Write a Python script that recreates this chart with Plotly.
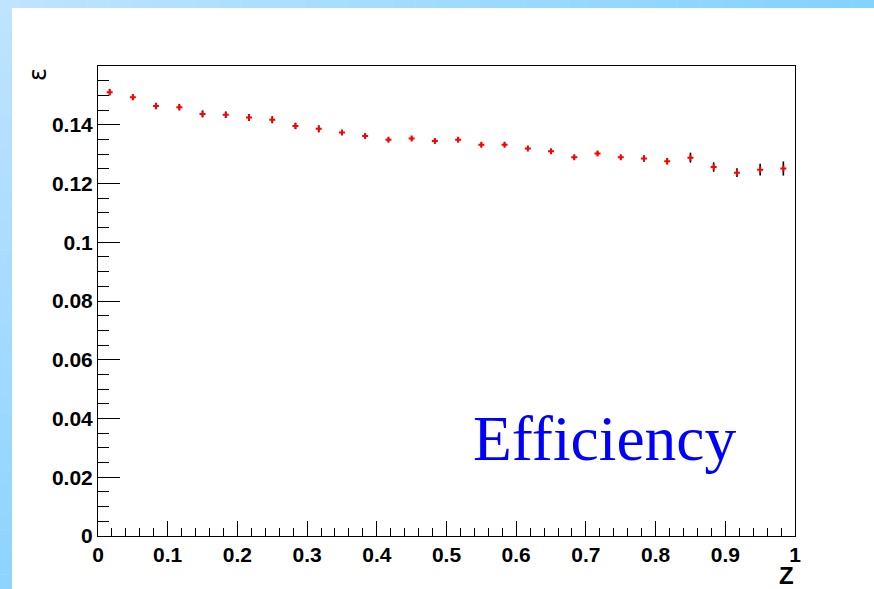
import numpy as np
import plotly.graph_objects as go

# Bin centres in Z (30 equal bins over [0, 1])
z_centers = [0.0167, 0.05, 0.0833, 0.1167, 0.15, 0.1833, 0.2167, 0.25, 0.2833, 0.3167,
             0.35, 0.3833, 0.4167, 0.45, 0.4833, 0.5167, 0.55, 0.5833, 0.6167, 0.65,
             0.6833, 0.7167, 0.75, 0.7833, 0.8167, 0.85, 0.8833, 0.9167, 0.95, 0.9833]

# Efficiency per bin
eff = [0.1511, 0.1494, 0.1464, 0.1460, 0.1437, 0.1434, 0.1425, 0.1417, 0.1396, 0.1386,
       0.1374, 0.1362, 0.1349, 0.1353, 0.1345, 0.1349, 0.1332, 0.1332, 0.1319, 0.1310,
       0.1289, 0.1302, 0.1289, 0.1285, 0.1276, 0.1288, 0.1256, 0.1237, 0.1247, 0.1251]

# Statistical uncertainty per bin
eff_err = [0.0011, 0.0010, 0.0011, 0.0011, 0.0012, 0.0011, 0.0012, 0.0012, 0.0011, 0.0012,
           0.0007, 0.0007, 0.0007, 0.0007, 0.0007, 0.0007, 0.0007, 0.0007, 0.0007, 0.0007,
           0.0007, 0.0007, 0.0007, 0.0011, 0.0011, 0.0017, 0.0016, 0.0015, 0.0020, 0.0024]

y_ticks = [0, 0.02, 0.04, 0.06, 0.08, 0.1, 0.12, 0.14]
x_ticks = [0, 0.1, 0.2, 0.3, 0.4, 0.5, 0.6, 0.7, 0.8, 0.9, 1.0]

W, H = 874, 589
L, R, T, B = 98, 79, 66, 53
PW, PH = W - L - R, H - T - B


def px_x(px):
    return (px - L) / PW


def px_y(py):
    return 1 - (py - T) / PH


fig = go.Figure()
fig.add_trace(go.Scatter(
    x=z_centers, y=eff,
    mode="markers",
    marker=dict(symbol="cross", size=5, color="#ff0000", line=dict(width=0)),
    error_y=dict(type="data", array=eff_err, visible=True, color="black",
                 thickness=1.6, width=0),
    showlegend=False,
))

# Slide-style backdrop: gradient bands along the top and left edges
shapes = []
n = 40
c0 = np.array([0xBF, 0xE4, 0xFF])
c1 = np.array([0x84, 0xD2, 0xFF])
for i in range(n):
    f = i / (n - 1)
    c = (c0 * (1 - f) + c1 * f).astype(int)
    col = "rgb(%d,%d,%d)" % tuple(c)
    x0 = W * i / n
    x1 = W * (i + 1) / n + 0.5
    shapes.append(dict(type="rect", xref="paper", yref="paper", layer="below",
                       x0=px_x(x0), x1=px_x(x1), y0=px_y(8), y1=px_y(0),
                       fillcolor=col, line=dict(width=0)))
c2 = np.array([0x8E, 0xD4, 0xFF])
for i in range(n):
    f = i / (n - 1)
    c = (c0 * (1 - f) + c2 * f).astype(int)
    col = "rgb(%d,%d,%d)" % tuple(c)
    y0 = H * i / n
    y1 = H * (i + 1) / n + 0.5
    shapes.append(dict(type="rect", xref="paper", yref="paper", layer="below",
                       x0=px_x(0), x1=px_x(12), y0=px_y(y1), y1=px_y(y0),
                       fillcolor=col, line=dict(width=0)))

annotations = [
    dict(text="ε", xref="paper", yref="paper", x=px_x(38), y=px_y(74),
         xanchor="center", yanchor="middle", showarrow=False, textangle=-90,
         font=dict(family="DejaVu Sans", size=24, color="black")),
    dict(text="<b>Z</b>", xref="paper", yref="paper", x=px_x(786), y=px_y(575),
         xanchor="center", yanchor="middle", showarrow=False,
         font=dict(family="Liberation Sans", size=24, color="black")),
    dict(text="Efficiency", xref="x", yref="y", x=0.535, y=0.0333,
         xanchor="left", yanchor="middle", showarrow=False,
         font=dict(family="Liberation Serif", size=63.5, color="#0000ff")),
]

fig.update_layout(
    width=W, height=H,
    margin=dict(l=L, r=R, t=T, b=B),
    paper_bgcolor="white", plot_bgcolor="white",
    shapes=shapes, annotations=annotations,
    font=dict(family="Liberation Sans", color="black"),
)

fig.update_xaxes(
    range=[0, 1], tickmode="array", tickvals=x_ticks,
    ticktext=["<b>%g</b>" % v for v in x_ticks],
    ticks="inside", ticklen=15, tickwidth=1, tickcolor="black",
    showline=True, linecolor="black", linewidth=1, mirror=True,
    showgrid=False, zeroline=False,
    tickfont=dict(family="Liberation Sans", size=21, color="black"),
    minor=dict(tickvals=[round(v, 2) for v in np.arange(0, 1.001, 0.02)],
               ticks="inside", ticklen=8, tickcolor="black", showgrid=False),
)
fig.update_yaxes(
    range=[0, 0.16], tickmode="array", tickvals=y_ticks,
    ticktext=["<b>%g</b>" % v for v in y_ticks],
    ticks="inside", ticklen=22, tickwidth=1, tickcolor="black",
    showline=True, linecolor="black", linewidth=1, mirror=True,
    showgrid=False, zeroline=False,
    tickfont=dict(family="Liberation Sans", size=21, color="black"),
    minor=dict(tickvals=[round(v, 3) for v in np.arange(0, 0.1601, 0.005)],
               ticks="inside", ticklen=11, tickcolor="black", showgrid=False),
)

fig.write_html("out.html")
